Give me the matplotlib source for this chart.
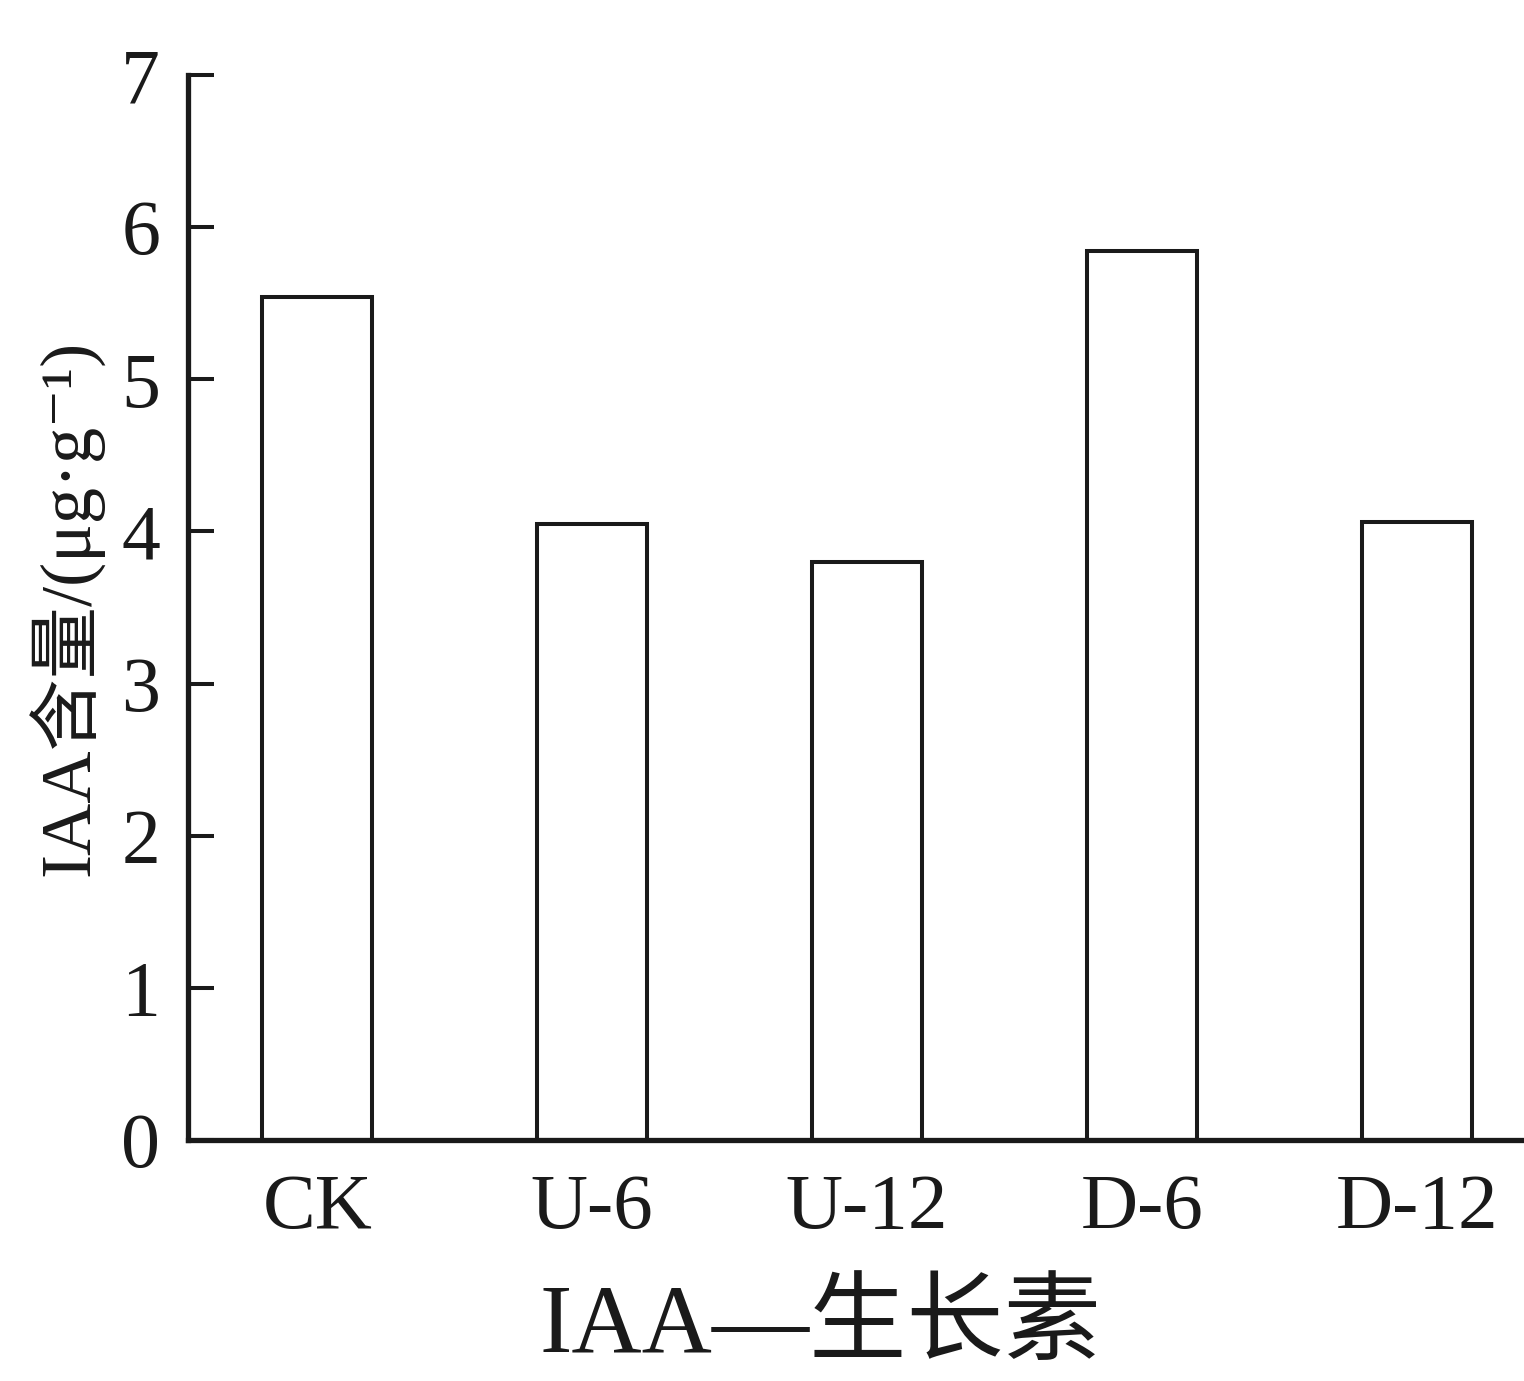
import matplotlib
matplotlib.use("Agg")
import matplotlib.pyplot as plt

categories = ["CK", "U-6", "U-12", "D-6", "D-12"]
values = [5.54, 4.05, 3.80, 5.84, 4.06]
yticks = [0, 1, 2, 3, 4, 5, 6, 7]

fam = ["Liberation Serif", "Noto Sans CJK SC", "DejaVu Serif"]
plt.rcParams["font.family"] = fam

fig = plt.figure(figsize=(15.24, 13.81), dpi=100)
ax = fig.add_axes([188/1524, 1 - 1140/1381, 1 - 188/1524, (1140 - 75)/1381])

x = list(range(len(categories)))
ax.bar(x, values, width=0.40, facecolor="white", edgecolor="#1a1a1a", linewidth=2.9, zorder=2)

ax.set_xlim(-0.47, 4.39)
ax.set_ylim(0, 7)
ax.set_yticks(yticks)
ax.set_yticklabels([str(t) for t in yticks])
ax.set_xticks(x)
ax.set_xticklabels(categories)

for s in ["top", "right"]:
    ax.spines[s].set_visible(False)
for s in ["left", "bottom"]:
    ax.spines[s].set_linewidth(3.8)
    ax.spines[s].set_color("#1a1a1a")
    ax.spines[s].set_zorder(3)

ax.tick_params(axis="y", direction="in", length=19, width=2.9, pad=20,
               labelsize=56, colors="#1a1a1a")
ax.tick_params(axis="x", length=0, pad=24, labelsize=57, colors="#1a1a1a")

ax.set_ylabel("IAA含量/(μg·g⁻¹)", fontsize=52, labelpad=12, color="#1a1a1a")

fig.text(820/1524, 1 - 1328/1381, "IAA—生长素", fontsize=70, ha="center", va="center",
         color="#1a1a1a")

fig.savefig("out.png", dpi=100)
